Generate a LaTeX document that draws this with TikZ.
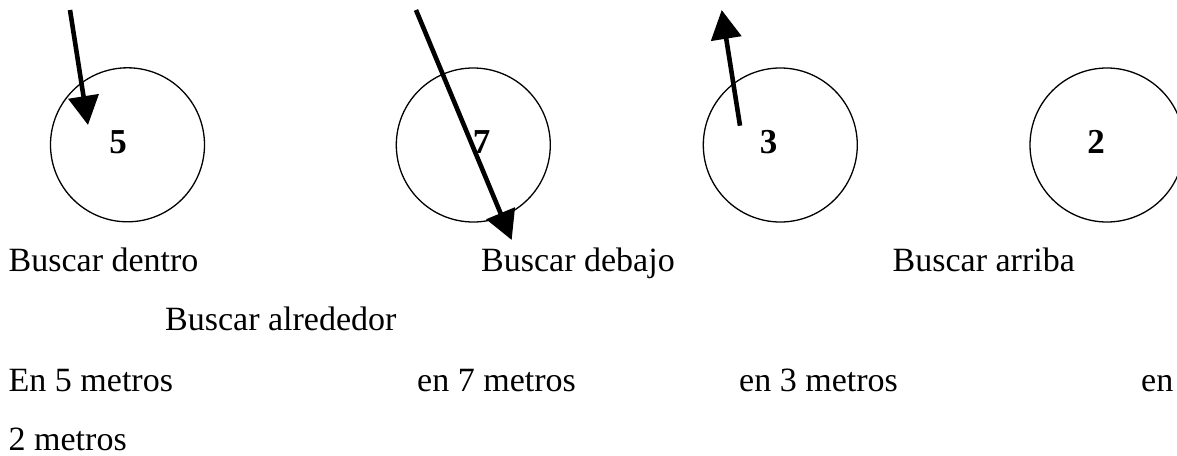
\documentclass[tikz,border=0pt]{standalone}
\usepackage{fontspec}
\setmainfont{Liberation Serif}
\usetikzlibrary{arrows.meta}
\tikzset{
  ring/.style={draw, line width=1.3pt, circle, minimum size=154pt, inner sep=0pt},
  num/.style={font=\fontsize{35}{40}\selectfont\bfseries, anchor=base, inner sep=0pt},
  lbl/.style={font=\fontsize{34}{40}\selectfont, anchor=base west, inner sep=0pt},
  bigarrow/.style={line width=4.6pt, -{Triangle[length=29pt, width=30pt]}}
}
\begin{document}
\begin{tikzpicture}[x=1pt,y=-1pt]
\clip (0,0) rectangle (1177,455);
\fill[white] (0,0) rectangle (1177,455);
% circles
\node[ring] (c1) at (127.5,144.8) {};
\node[ring] (c2) at (473.3,145) {};
\node[ring] (c3) at (780.3,145) {};
\node[ring] (c4) at (1107,145) {};
% numbers
\node[num] (n1) at (118,153.5) {5};
\node[num] (n2) at (481.7,153.5) {7};
\node[num] (n3) at (768.5,153.5) {3};
\node[num] (n4) at (1096,153.5) {2};
% arrows
\coordinate (a1s) at (70,10);
\coordinate (a1e) at (88,125);
\coordinate (a2s) at (416,10);
\coordinate (a2e) at (511.7,240);
\coordinate (a3s) at (740,125.7);
\coordinate (a3e) at (721.7,10);
\draw[bigarrow] (a1s) -- (a1e);
\draw[bigarrow] (a2s) -- (a2e);
\draw[bigarrow] (a3s) -- (a3e);
% labels
\node[lbl] (t1) at (8.5,271.7) {Buscar dentro};
\node[lbl] (t2) at (481,271.7) {Buscar debajo};
\node[lbl] (t3) at (892.5,271.7) {Buscar arriba};
\node[lbl] (t4) at (165,330) {Buscar alrededor};
\node[lbl] (t5) at (8.5,391) {En 5 metros};
\node[lbl] (t6) at (417,391) {en 7 metros};
\node[lbl] (t7) at (739,391) {en 3 metros};
\node[lbl] (t8) at (1141,391) {en};
\node[lbl] (t9) at (8.5,450) {2 metros};
\end{tikzpicture}
\end{document}
